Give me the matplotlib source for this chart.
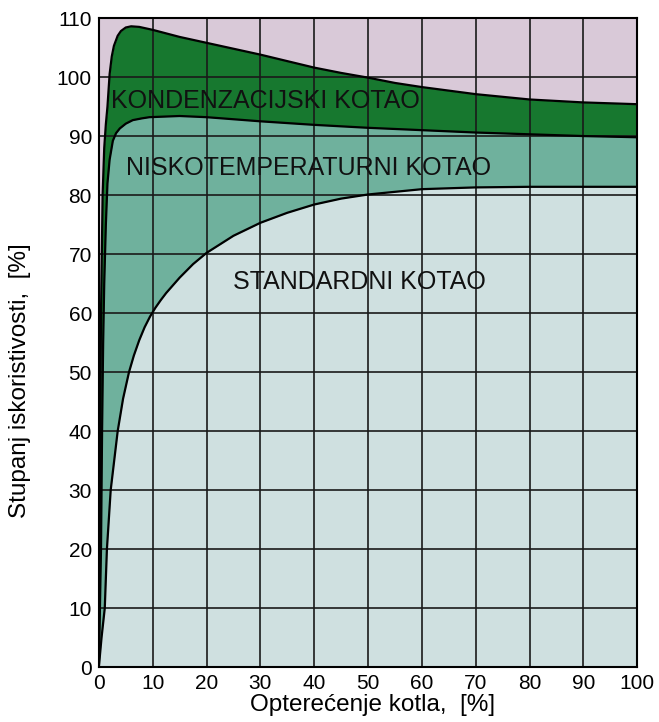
import matplotlib.pyplot as plt
import numpy as np

plt.rcParams['font.family'] = ['Liberation Sans', 'DejaVu Sans']

# Data (load %, efficiency %)
cond_x = [0, 0.4, 0.7, 1.0, 1.3, 1.6, 2.0, 2.4, 2.8, 3.5, 4.1, 5.0, 6.0, 7.5, 10,
          12.5, 15, 20, 25, 30, 35, 40, 45, 50, 55, 60, 70, 80, 90, 100]
cond_y = [0, 60, 80, 88, 92, 95, 100.5, 103.5, 105.3, 107.0, 107.8, 108.4, 108.6,
          108.5, 108.0, 107.4, 106.8, 105.8, 104.8, 103.8, 102.7, 101.6, 100.7,
          99.9, 99.0, 98.3, 97.1, 96.2, 95.7, 95.4]

low_x = [0, 0.4, 0.6, 0.8, 1.0, 1.3, 1.6, 2.0, 2.6, 3.2, 3.9, 5.0, 6.3, 8.0, 9.4,
         15, 20, 30, 40, 50, 60, 70, 80, 90, 100]
low_y = [0, 20, 40, 55, 65, 75, 82, 86, 89.2, 90.5, 91.3, 92.1, 92.7, 93.0, 93.2,
         93.4, 93.2, 92.5, 91.9, 91.4, 91.0, 90.6, 90.3, 90.0, 89.8]

std_x = [0, 0.5, 1.1, 1.5, 2.2, 3.5, 4.5, 5.6, 6.5, 7.5, 8.5, 9.5, 10.5, 11.5,
         12.5, 15, 17.5, 20, 25, 30, 35, 40, 45, 50, 60, 70, 80, 90, 100]
std_y = [0, 5, 10, 20, 30, 40, 45.5, 50, 52.8, 55.4, 57.6, 59.4, 60.9, 62.2,
         63.4, 66.0, 68.3, 70.2, 73.1, 75.3, 77.0, 78.4, 79.4, 80.1, 81.0, 81.3,
         81.4, 81.4, 81.4]

labels = ["KONDENZACIJSKI KOTAO", "NISKOTEMPERATURNI KOTAO", "STANDARDNI KOTAO"]
label_pos = [(2.2, 96.0), (5.0, 84.6), (25.0, 65.3)]

bg_color = '#d9c9d8'
colors = ['#17782f', '#6fb19d', '#cfe0e0']

fig = plt.figure(figsize=(6.59, 7.22), dpi=100)
ax = fig.add_axes([0.150, 0.076, 0.817, 0.899])
ax.set_facecolor(bg_color)

ax.fill_between(cond_x, 0, cond_y, color=colors[0], lw=0)
ax.fill_between(low_x, 0, low_y, color=colors[1], lw=0)
ax.fill_between(std_x, 0, std_y, color=colors[2], lw=0)

for xs, ys in [(cond_x, cond_y), (low_x, low_y), (std_x, std_y)]:
    ax.plot(xs, ys, color='black', lw=1.6, solid_joinstyle='round', zorder=3)

for text, (tx, ty) in zip(labels, label_pos):
    ax.text(tx, ty, text, fontsize=18, color='#111111', va='center', ha='left', zorder=4)

ax.set_xlim(0, 100)
ax.set_ylim(0, 110)
ax.set_xticks(np.arange(0, 101, 10))
ax.set_yticks(np.arange(0, 111, 10))
ax.tick_params(length=0, labelsize=15, pad=5)
ax.set_axisbelow(False)
ax.grid(True, color='#1a1a1a', lw=1.2)
for s in ax.spines.values():
    s.set_linewidth(1.5)
    s.set_zorder(5)

ax.set_xlabel("Opterećenje kotla,  [%]", fontsize=17.5)
ax.set_ylabel("Stupanj iskoristivosti,  [%]", fontsize=17.5)
ax.xaxis.set_label_coords(0.509, -0.041)
ax.yaxis.set_label_coords(-0.126, 0.442)

fig.savefig("out.png", dpi=100)
